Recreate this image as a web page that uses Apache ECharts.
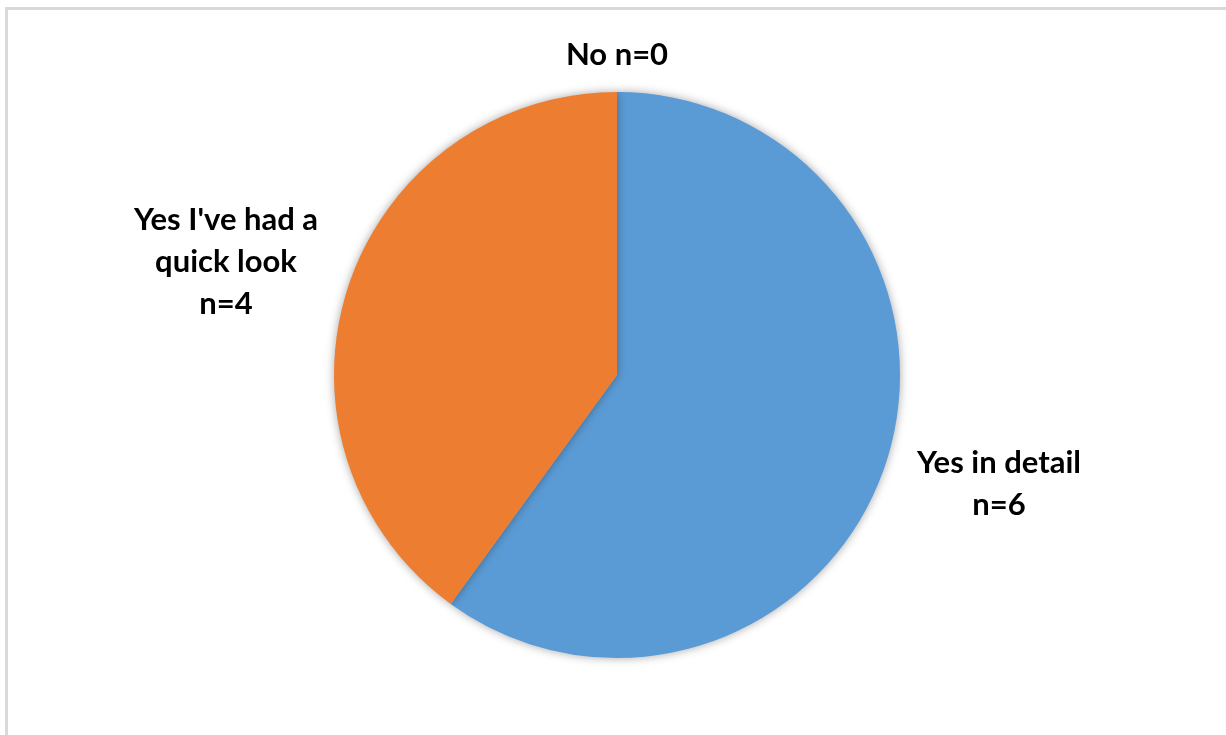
<!DOCTYPE html>
<html>
<head>
<meta charset="utf-8">
<script src="https://cdn.jsdelivr.net/npm/echarts@6/dist/echarts.min.js"></script>
<style>
html,body{margin:0;padding:0;background:#fff;overflow:hidden;}
#frame{position:absolute;left:5px;top:7px;width:1400px;height:900px;border:3px solid #d9d9d9;box-sizing:border-box;}
#chart{position:absolute;left:0;top:0;width:1226px;height:735px;}
</style>
</head>
<body>
<div id="frame"></div>
<div id="chart"></div>
<script>
const categories = ["Yes in detail", "Yes I've had a\nquick look", "No"];
const values = [6, 4, 0];
const colors = ["#5B9BD5", "#ED7D31", "#A5A5A5"];

const labelAnchors = [[999, 484], [226, 262], [617, 55]];

const chart = echarts.init(document.getElementById('chart'));
chart.setOption({
  animation: false,
  series: [{
    type: 'pie',
    center: [617, 375],
    radius: 283,
    startAngle: 90,
    clockwise: true,
    avoidLabelOverlap: false,
    data: categories.map((c, i) => ({ name: c, value: values[i], itemStyle: { color: colors[i] } })),
    itemStyle: {
      shadowBlur: 10,
      shadowColor: 'rgba(0,0,0,0.35)',
      borderWidth: 0
    },
    label: {
      show: true,
      position: 'outside',
      formatter: p => p.value === 0 ? p.name + ' n=' + p.value : p.name + '\nn=' + p.value,
      fontFamily: 'Lato',
      fontWeight: 'bold',
      fontSize: 31,
      lineHeight: 42,
      color: '#000',
      align: 'center'
    },
    labelLine: { show: false },
    labelLayout: p => ({
      x: labelAnchors[p.dataIndex][0],
      y: labelAnchors[p.dataIndex][1],
      align: 'center',
      verticalAlign: 'middle'
    }),
    emphasis: { disabled: true }
  }]
});
</script>
</body>
</html>
